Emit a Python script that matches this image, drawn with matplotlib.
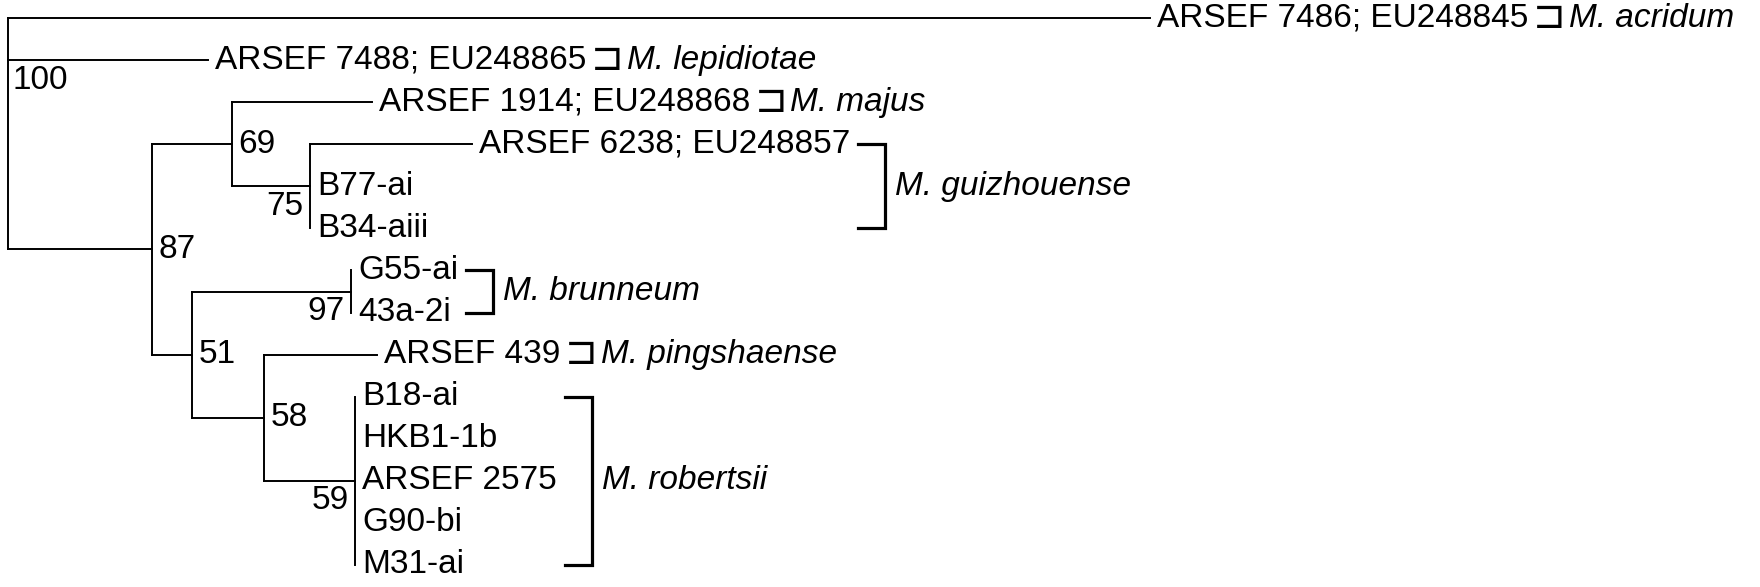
import matplotlib
matplotlib.use("Agg")
import matplotlib.pyplot as plt

plt.rcParams["font.family"] = ["Liberation Sans", "DejaVu Sans"]

# tips, listed top to bottom
tip_labels = ["ARSEF 7486; EU248845", "ARSEF 7488; EU248865", "ARSEF 1914; EU248868",
              "ARSEF 6238; EU248857", "B77-ai", "B34-aiii", "G55-ai", "43a-2i",
              "ARSEF 439", "B18-ai", "HKB1-1b", "ARSEF 2575", "G90-bi", "M31-ai"]
tip_parent = ["root", "root", "n69", "n75", "n75", "n75", "n97", "n97", "n58",
              "n59", "n59", "n59", "n59", "n59"]
tip_depth = [1.142, 0.200, 0.364, 0.464, 0.302, 0.302, 0.343, 0.343, 0.369,
             0.347, 0.347, 0.347, 0.347, 0.347]

# internal nodes
node_names = ["root", "n87", "n69", "n75", "n51", "n97", "n58", "n59"]
node_parent = [None, "root", "n87", "n69", "n87", "n51", "n51", "n58"]
node_depth = [0.0, 0.144, 0.224, 0.302, 0.184, 0.343, 0.256, 0.347]
node_support = ["100", "87", "69", "75", "51", "97", "58", "59"]

# species groups (first tip index, last tip index)
species_names = ["M. acridum", "M. lepidiotae", "M. majus", "M. guizhouense",
                 "M. brunneum", "M. pingshaense", "M. robertsii"]
species_first = [0, 1, 2, 3, 6, 8, 9]
species_last = [0, 1, 2, 5, 7, 8, 13]

FS = 24
TREE_LW = 1.4
BRACKET_LW = 2.3

fig = plt.figure(figsize=(17.6, 5.87), dpi=100)
ax = fig.add_axes([0, 0, 1, 1])
ax.set_xlim(-0.008, 1.752)
ax.set_ylim(13.523, -0.428)
ax.axis("off")

depth = dict(zip(node_names, node_depth))
children = {n: [] for n in node_names}
for i, p in enumerate(tip_parent):
    children[p].append(("tip", i))
for n, p in zip(node_names, node_parent):
    if p is not None:
        children[p].append(("node", n))

ypos = {}


def node_y(n):
    if n not in ypos:
        ys = [c if k == "tip" else node_y(c) for k, c in children[n]]
        ypos[n] = (min(ys) + max(ys)) / 2
    return ypos[n]


node_y("root")

line_kw = dict(color="black", lw=TREE_LW, solid_capstyle="projecting")
for n in node_names:
    x0 = depth[n]
    ys = []
    for kind, c in children[n]:
        if kind == "tip":
            cy, cx = c, tip_depth[c]
        else:
            cy, cx = ypos[c], depth[c]
        ys.append(cy)
        if cx > x0:
            ax.plot([x0, cx], [cy, cy], **line_kw)
    ax.plot([x0, x0], [min(ys), max(ys)], **line_kw)

# support values
for n, s in zip(node_names, node_support):
    if n == "root":
        first = min(c for k, c in children[n] if k == "tip" and c > 0)
        ax.annotate(s, (depth[n], first), xytext=(3, -14.5), textcoords="offset points",
                    ha="left", va="center", fontsize=FS)
    elif any(k == "tip" and tip_depth[c] == depth[n] for k, c in children[n]):
        ax.annotate(s, (depth[n], ypos[n]), xytext=(-4.5, -14.5), textcoords="offset points",
                    ha="right", va="center", fontsize=FS)
    else:
        ax.annotate(s, (depth[n], ypos[n]), xytext=(4.5, 0), textcoords="offset points",
                    ha="left", va="center", fontsize=FS)

# tip labels
tip_texts = []
for i, lab in enumerate(tip_labels):
    t = ax.annotate(lab, (tip_depth[i], i), xytext=(5, 0), textcoords="offset points",
                    ha="left", va="center", fontsize=FS)
    tip_texts.append(t)

fig.canvas.draw()
renderer = fig.canvas.get_renderer()
inv = ax.transData.inverted()
px = (ax.get_xlim()[1] - ax.get_xlim()[0]) / fig.bbox.width

for name, a, b in zip(species_names, species_first, species_last):
    if a == b:
        ax.annotate("\u2290", (1, 0.5), xycoords=tip_texts[a], xytext=(3.5, 1),
                    textcoords="offset points", ha="left", va="center",
                    fontsize=28, family="DejaVu Sans")
        ax.annotate(name, (1, 0.5), xycoords=tip_texts[a], xytext=(29, 0),
                    textcoords="offset points", ha="left", va="center",
                    fontsize=FS, style="italic")
    else:
        right = max(inv.transform((tip_texts[i].get_window_extent(renderer).x1, 0))[0]
                    for i in range(a, b + 1))
        x0 = right + 8 * px
        xv = x0 + 27 * px
        ax.plot([x0, xv, xv, x0], [a, a, b, b], color="black", lw=BRACKET_LW,
                solid_joinstyle="miter")
        ax.text(xv + 10 * px, (a + b) / 2, name, ha="left", va="center",
                fontsize=FS, style="italic")

fig.savefig("out.png", dpi=100, facecolor="white")
